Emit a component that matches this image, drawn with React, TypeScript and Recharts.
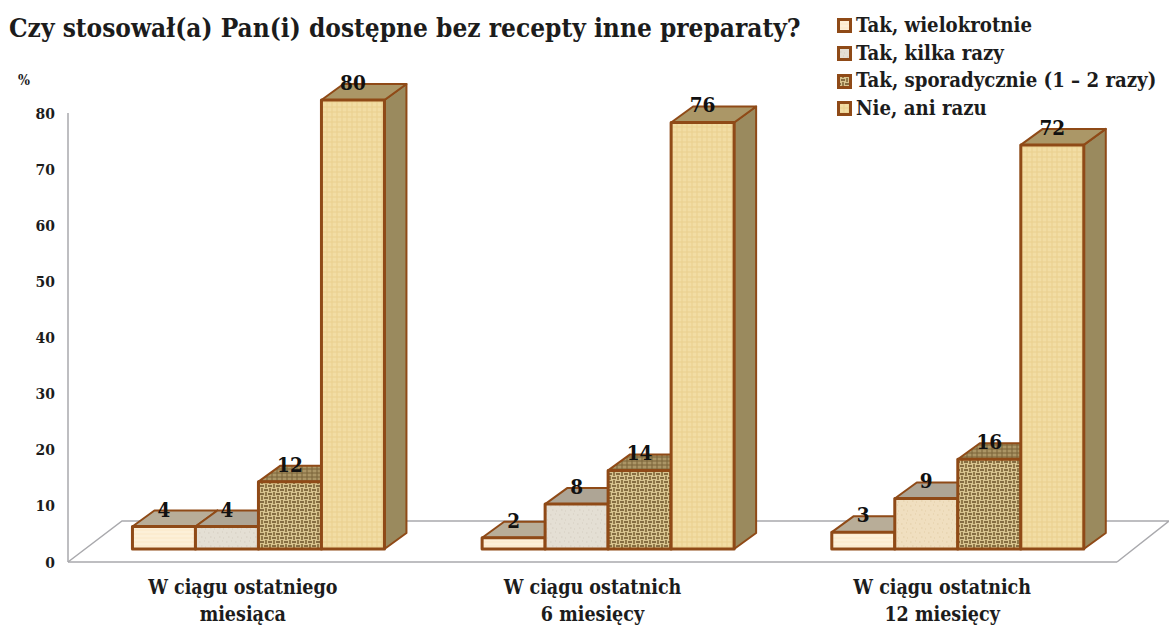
import { Bar, BarChart, LabelList, Legend, XAxis, YAxis, usePlotArea } from "recharts";

const categories = ["W ciągu ostatniego\nmiesiąca", "W ciągu ostatnich\n6 miesięcy", "W ciągu ostatnich\n12 miesięcy"];
const wielokrotnie = [4, 2, 3];
const kilkaRazy = [4, 8, 9];
const sporadycznie = [12, 14, 16];
const aniRazu = [80, 76, 72];
const yTicks = [0, 10, 20, 30, 40, 50, 60, 70, 80];
const seriesNames = ["Tak, wielokrotnie", "Tak, kilka razy", "Tak, sporadycznie (1 – 2 razy)", "Nie, ani razu"];

const data = categories.map((name, i) => ({
  name,
  a: wielokrotnie[i],
  b: kilkaRazy[i],
  c: sporadycznie[i],
  d: aniRazu[i],
}));

const FONT = "'DejaVu Serif Condensed', 'DejaVu Serif', serif";
const BROWN = "#8f4a17";
const GREY = "#a9a9ad";

// bars stand on the middle of the floor, so everything is moved off the axis plane
const SHIFT_X = 15.5;
const SHIFT_Y = -13;
const DEPTH_X = 22;
const DEPTH_Y = -16;

const Box = (props: any) => {
  const { x, y, width, height, front, top, side, index, frontAlt } = props;
  const l = x + SHIFT_X;
  const r = l + width;
  const t = y + SHIFT_Y;
  const b = t + height;
  return (
    <g strokeLinejoin="round">
      <polygon
        points={`${r},${t} ${r + DEPTH_X},${t + DEPTH_Y} ${r + DEPTH_X},${b + DEPTH_Y} ${r},${b}`}
        fill={side}
        stroke={BROWN}
        strokeWidth={2}
      />
      <polygon
        points={`${l},${t} ${l + DEPTH_X},${t + DEPTH_Y} ${r + DEPTH_X},${t + DEPTH_Y} ${r},${t}`}
        fill={top}
        stroke={BROWN}
        strokeWidth={2}
      />
      <rect
        x={l}
        y={t}
        width={width}
        height={height}
        fill={frontAlt && index === 2 ? frontAlt : front}
        stroke={BROWN}
        strokeWidth={3}
      />
    </g>
  );
};

const ValueLabel = (props: any) => {
  const { x, y, width, value } = props;
  return (
    <text
      x={x + SHIFT_X + width / 2}
      y={y + SHIFT_Y - 17}
      textAnchor="middle"
      dominantBaseline="central"
      fontFamily={FONT}
      fontWeight={700}
      fontSize={20.5}
      fill="#111"
    >
      {value}
    </text>
  );
};

const CategoryTick = (props: any) => {
  const { x, y, payload } = props;
  return (
    <text x={x} y={y} textAnchor="middle" fontFamily={FONT} fontWeight={700} fontSize={19.5} fill="#1c1c1c">
      {String(payload.value)
        .split("\n")
        .map((line, i) => (
          <tspan key={line} x={x} y={y + 24 + i * 27}>
            {line}
          </tspan>
        ))}
    </text>
  );
};

const Floor = () => {
  const plot = usePlotArea();
  if (!plot) return null;
  const left = plot.x;
  const right = plot.x + plot.width;
  const bottom = plot.y + plot.height;
  return (
    <polyline
      points={`${left},${bottom} ${left + 54},${bottom - 41} ${right + 52},${bottom - 41} ${right},${bottom}`}
      fill="none"
      stroke={GREY}
      strokeWidth={1.5}
    />
  );
};

const swatches = ["url(#tex-cream)", "url(#tex-stone)", "url(#tex-burlap)", "url(#tex-papyrus)"];

const LegendBox = () => (
  <div style={{ fontFamily: FONT, fontWeight: 700, fontSize: 20.2, color: "#1c1c1c", lineHeight: "27.7px" }}>
    {seriesNames.map((name, i) => (
      <div key={name} style={{ display: "flex", alignItems: "center", whiteSpace: "nowrap" }}>
        <svg width={15} height={15} style={{ marginRight: 4 }}>
          <rect x={1.5} y={1.5} width={12} height={12} fill={swatches[i]} stroke={BROWN} strokeWidth={3} />
        </svg>
        {name}
      </div>
    ))}
  </div>
);

export default function App() {
  return (
    <div style={{ position: "absolute", left: 0, top: 0, width: 1169, height: 628, background: "#fff", overflow: "hidden" }}>
      <div
        style={{
          position: "absolute",
          left: 9,
          top: 13,
          fontFamily: FONT,
          fontWeight: 700,
          fontSize: 26,
          color: "#1c1c1c",
          whiteSpace: "nowrap",
        }}
      >
        Czy stosował(a) Pan(i) dostępne bez recepty inne preparaty?
      </div>
      <div style={{ position: "absolute", left: 18, top: 72, fontFamily: FONT, fontWeight: 700, fontSize: 14, color: "#1c1c1c" }}>
        %
      </div>
      <BarChart
        width={1169}
        height={628}
        data={data}
        margin={{ top: 113, right: 52, bottom: 0, left: 0 }}
        barCategoryGap="14%"
        barGap={0}
        style={{ overflow: "visible" }}
      >
        <defs>
          <pattern id="tex-cream" width={8} height={8} patternUnits="userSpaceOnUse">
            <rect width={8} height={8} fill="#fdf0d8" />
            <path d="M0 2h8M0 6h8" stroke="#fbe8c8" strokeWidth={1} />
          </pattern>
          <pattern id="tex-stone" width={9} height={9} patternUnits="userSpaceOnUse">
            <rect width={9} height={9} fill="#e4dfd4" />
            <path d="M1 2h1.5M6 1h1M3 6h1.5M7 7h1" stroke="#d5cec0" strokeWidth={1.2} />
          </pattern>
          <pattern id="tex-sand" width={9} height={9} patternUnits="userSpaceOnUse">
            <rect width={9} height={9} fill="#f0dfc0" />
            <path d="M1 2h1.5M6 1h1M3 6h1.5M7 7h1" stroke="#e3cda6" strokeWidth={1.2} />
          </pattern>
          <pattern id="tex-burlap" width={8} height={8} patternUnits="userSpaceOnUse">
            <rect width={8} height={8} fill="#d8c48f" />
            <path d="M0 2h4M4 6h4" stroke="#6a5128" strokeWidth={1.5} />
            <path d="M6 0v4M2 4v4" stroke="#7a6032" strokeWidth={1.5} />
          </pattern>
          <pattern id="tex-burlap-top" width={5} height={4} patternUnits="userSpaceOnUse">
            <rect width={5} height={4} fill="#ab9565" />
            <path d="M0 1h5M2 0v4" stroke="#7a6338" strokeWidth={1} />
          </pattern>
          <pattern id="tex-papyrus" width={5} height={5} patternUnits="userSpaceOnUse">
            <rect width={5} height={5} fill="#f2dda4" />
            <path d="M0 2h5M2 0v5" stroke="#ebd08f" strokeWidth={1} />
          </pattern>
        </defs>
        <XAxis
          dataKey="name"
          axisLine={{ stroke: GREY, strokeWidth: 1.5 }}
          tickLine={false}
          height={66}
          interval={0}
          tick={<CategoryTick />}
        />
        <YAxis
          width={68}
          domain={[0, 80]}
          ticks={yTicks}
          axisLine={{ stroke: GREY, strokeWidth: 1.5 }}
          tickLine={false}
          tick={{ fontFamily: FONT, fontWeight: 700, fontSize: 15.5, fill: "#1c1c1c" }}
          tickMargin={7}
        />
        <Floor />
        <Legend
          layout="vertical"
          align="center"
          verticalAlign="middle"
          content={<LegendBox />}
          wrapperStyle={{ left: 837, top: 12, width: 330, right: "auto" }}
        />
        <Bar
          dataKey="a"
          isAnimationActive={false}
          shape={<Box front="url(#tex-cream)" top="#b8ad98" side="#9d8f6c" />}
        >
          <LabelList dataKey="a" content={<ValueLabel />} />
        </Bar>
        <Bar
          dataKey="b"
          isAnimationActive={false}
          shape={<Box front="url(#tex-stone)" frontAlt="url(#tex-sand)" top="#aea595" side="#9d8f6c" />}
        >
          <LabelList dataKey="b" content={<ValueLabel />} />
        </Bar>
        <Bar
          dataKey="c"
          isAnimationActive={false}
          shape={<Box front="url(#tex-burlap)" top="url(#tex-burlap-top)" side="#7d6a42" />}
        >
          <LabelList dataKey="c" content={<ValueLabel />} />
        </Bar>
        <Bar
          dataKey="d"
          isAnimationActive={false}
          shape={<Box front="url(#tex-papyrus)" top="#ab9767" side="#9a8a5e" />}
        >
          <LabelList dataKey="d" content={<ValueLabel />} />
        </Bar>
      </BarChart>
    </div>
  );
}
